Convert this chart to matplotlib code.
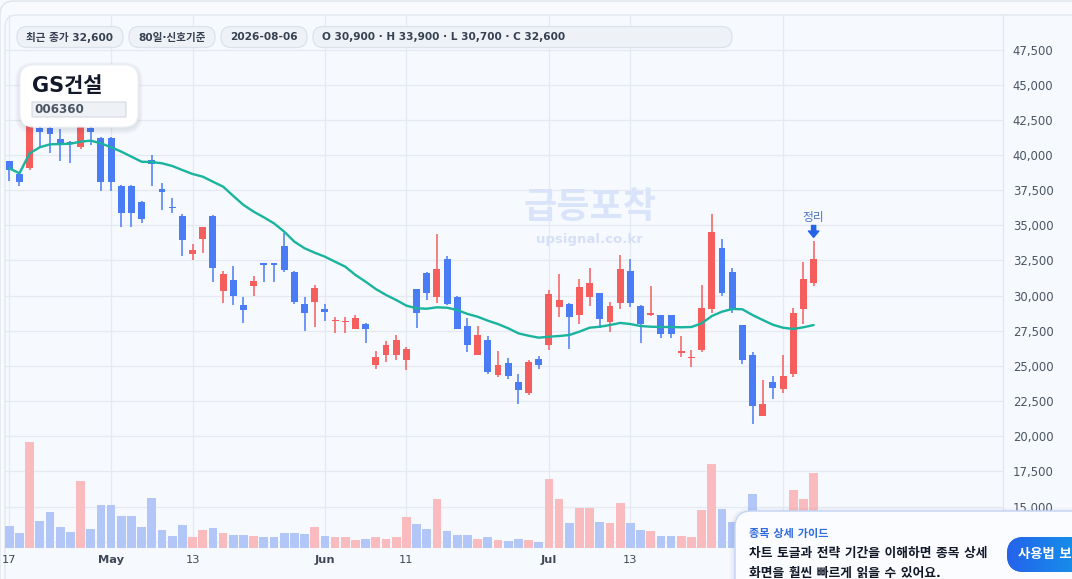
# -*- coding: utf-8 -*-

#---------------------------------------------------------------------
# ライブラリの読み込み
#---------------------------------------------------------------------
import numpy as np
import pandas as pd
import matplotlib
matplotlib.use('Agg')
import matplotlib.pyplot as plt
from matplotlib.patches import FancyBboxPatch
from matplotlib.transforms import IdentityTransform

#---------------------------------------------------------------------
# 데이터 (GS건설 일봉, 2026-04-17 ~ 2026-08-06)
#---------------------------------------------------------------------
dates = pd.bdate_range('2026-04-17', '2026-08-06')

opens = [39550, 38650, 39100, 41950, 41950, 41150, 40950, 40600, 41950, 41200,
         41200, 37800, 37800, 36650, 39650, 37600, 36300, 35650, 32950, 34050,
         35650, 30300, 31100, 29350, 30650, 32300, 32300, 33500, 31650, 29400,
         29550, 29050, 28200, 28150, 27650, 28000, 25050, 25800, 25800, 25400,
         30450, 31600, 29900, 32600, 29900, 27850, 25800, 26850, 24350, 25200,
         23850, 23100, 25500, 26500, 29200, 29400, 28600, 29900, 30200, 28150,
         29450, 31750, 29250, 28650, 28600, 28600, 25950, 25550, 26150, 29050,
         33400, 31650, 27900, 25800, 21450, 23850, 23350, 24450, 29050, 30900]
highs = [39600, 38700, 42600, 42150, 42100, 41850, 41000, 42300, 42200, 41250,
         41250, 37850, 37850, 36700, 40000, 38000, 36950, 35800, 33700, 34900,
         35700, 31750, 32100, 29900, 31400, 32350, 32350, 34450, 31750, 29900,
         30750, 29400, 28450, 28500, 28650, 28050, 26050, 26800, 27200, 26350,
         30500, 31650, 34400, 32800, 29950, 28400, 27850, 27100, 26050, 25550,
         24450, 25450, 25700, 30400, 31550, 29450, 31200, 31950, 30200, 29550,
         32900, 32600, 29350, 30700, 28600, 28600, 27150, 26150, 30750, 35800,
         34050, 31950, 27900, 26000, 24000, 24300, 25750, 29150, 32400, 33900]
lows = [38150, 37800, 38950, 40600, 40150, 39600, 39450, 40400, 40700, 37450,
        37450, 34900, 34900, 35200, 37800, 36100, 35900, 32850, 32550, 33050,
        31000, 29450, 29350, 28050, 30000, 31000, 31000, 31700, 29400, 27500,
        27800, 28200, 27350, 27350, 27650, 26650, 24800, 25250, 25400, 24700,
        27700, 29700, 29500, 29350, 27650, 26000, 25750, 24450, 24250, 24100,
        22300, 22950, 24750, 26150, 28500, 26200, 28000, 29250, 27700, 27450,
        29050, 29200, 26650, 28550, 27000, 27000, 25650, 24950, 26000, 28800,
        29950, 28750, 25150, 20850, 21450, 22650, 23100, 24250, 28000, 30700]
closes = [38950, 38050, 42300, 41650, 41500, 40800, 40800, 42000, 41650, 38050,
          38050, 35900, 35900, 35450, 39350, 37350, 36200, 33950, 33250, 34900,
          32000, 31550, 29950, 29000, 31050, 32150, 32150, 31800, 29550, 28800,
          30550, 28850, 28250, 28200, 28400, 27650, 25650, 26500, 26850, 26200,
          28800, 30200, 31900, 29400, 27650, 26500, 27200, 24600, 25050, 24300,
          23300, 25250, 25100, 30100, 29700, 28500, 30600, 30900, 28350, 29250,
          31900, 29450, 28000, 28750, 27300, 27300, 26050, 25650, 29150, 34500,
          30200, 29050, 25400, 22150, 22300, 23450, 24300, 28750, 31200, 32600]

# 이동평균선
ma_line = [39050, 38700, 40120, 40550, 40760, 40780, 40800, 40950, 41020, 40830,
           40550, 40240, 39880, 39520, 39500, 39410, 39220, 38930, 38650, 38460,
           38100, 37750, 37090, 36450, 35970, 35570, 35140, 34550, 33840, 33370,
           33050, 32770, 32410, 32060, 31470, 30990, 30470, 30050, 29690, 29290,
           29100, 29070, 29170, 29140, 28980, 28700, 28500, 28220, 27980, 27680,
           27320, 27150, 27010, 27080, 27130, 27200, 27440, 27720, 27790, 27910,
           28060, 27980, 27840, 27790, 27770, 27770, 27750, 27770, 28030, 28550,
           28860, 29050, 29030, 28620, 28270, 27930, 27720, 27630, 27750, 27910]

# 거래량 (천주)
volumes = [195, 132, 951, 243, 321, 186, 141, 600, 168, 384,
           384, 285, 285, 186, 447, 159, 105, 204, 96, 159,
           177, 132, 114, 114, 105, 96, 96, 132, 132, 123,
           186, 105, 96, 96, 69, 78, 96, 78, 96, 276,
           213, 168, 438, 150, 114, 114, 78, 96, 69, 60,
           78, 69, 51, 618, 438, 222, 357, 357, 231, 222,
           402, 222, 159, 150, 105, 105, 105, 96, 339, 753,
           348, 234, 300, 486, 255, 180, 285, 519, 438, 672]

# 마지막 눈금(8월)은 팝업에 가려져 라벨 없음
tick_dates = ['2026-04-17', '2026-05-01', '2026-05-13', '2026-06-01',
              '2026-06-11', '2026-07-01', '2026-07-13', '2026-08-03']
tick_labels = ['17', 'May', '13', 'Jun', '11', 'Jul', '13', '']
price_ticks = list(range(12500, 50000, 2500))

info_pills = ['최근 종가 32,600', '80일·신호기준', '2026-08-06',
              'O 30,900 · H 33,900 · L 30,700 · C 32,600']

#---------------------------------------------------------------------
# 스타일
#---------------------------------------------------------------------
plt.rcParams['font.family'] = ['DejaVu Sans', 'Noto Sans CJK KR']
W, H = 1072, 579
RED, BLUE = '#f65d5d', '#4a7cf6'
RED_V, BLUE_V = '#f9bbbd', '#b3c6f8'
TEAL = '#19b39e'
PX = IdentityTransform()


def box(x0, y0, x1, y1, r, fc, ec='none', lw=0.0, z=10, alpha=1.0):
	# 픽셀 좌표(위에서 아래로)로 둥근 사각형
	p = FancyBboxPatch((x0, H - y1), x1 - x0, y1 - y0,
	                   boxstyle='round,pad=0,rounding_size=%g' % r,
	                   fc=fc, ec=ec, lw=lw, transform=PX, zorder=z, alpha=alpha)
	fig.add_artist(p)
	return p


def label(x, y, s, **kw):
	kw.setdefault('va', 'center')
	kw.setdefault('zorder', 12)
	fig.text(x / W, 1 - y / H, s, **kw)


#---------------------------------------------------------------------
# 그래프
#---------------------------------------------------------------------
fig = plt.figure(figsize=(W / 100, H / 100), dpi=100, facecolor='#f8fafd')

# 바깥 카드와 패널
box(0, 1, 1100, 640, 14, '#f8fafd', '#dfe4ec', 1.0, z=-3)
box(5, 15, 1100, 640, 12, '#f6f9fe', '#e2e7ef', 1.0, z=-2)

pos = [5 / W, 1 - 548 / H, 998 / W, 533 / H]
ax_bg = fig.add_axes(pos)
ax_vol = fig.add_axes(pos, sharex=ax_bg)
ax = fig.add_axes(pos, sharex=ax_bg, sharey=ax_bg)

x = np.arange(len(dates))
o, h, l, c = map(np.array, (opens, highs, lows, closes))
up = c >= o

# 거래량 (별도 축, 아래쪽 1/5)
ax_vol.bar(x, volumes, width=0.86, color=np.where(up, RED_V, BLUE_V), lw=0)
ax_vol.set_ylim(0, max(volumes) * 5.04)
ax_vol.axis('off')

# 캔들
col = np.where(up, RED, BLUE)
ax.vlines(x, l, h, colors=col, lw=1.1, zorder=2)
ax.bar(x, np.maximum(np.abs(c - o), 70), bottom=np.minimum(o, c),
       width=0.68, color=col, lw=0, zorder=3)
ax.plot(x, ma_line, color=TEAL, lw=1.7, zorder=4, solid_capstyle='round')

# 신호 표시
ax.annotate('', xy=(x[-1], h[-1]), xytext=(0, 11), textcoords='offset points',
            arrowprops=dict(arrowstyle='simple,head_length=0.45,head_width=0.75,tail_width=0.3',
                            color='#2563eb', shrinkA=0, shrinkB=2.5, mutation_scale=10),
            zorder=5)
ax.annotate('정리', xy=(x[-1], h[-1]), xytext=(0, 17), textcoords='offset points',
            ha='center', va='center', fontsize=8.5, color='#4f72c8', zorder=5)

# 축 설정
ax.set_xlim(-0.42, 97.6)
ax.set_ylim(12057, 49954)
tpos = [dates.get_loc(pd.Timestamp(d)) for d in tick_dates]
ax.set_xticks(tpos)
ax.set_xticklabels(tick_labels)
ax.set_yticks(price_ticks)
ax.set_yticklabels(['{:,}'.format(v) for v in price_ticks])
for t in ax.get_xticklabels():
	if t.get_text() in ('May', 'Jun', 'Jul'):
		t.set_fontweight('bold')
		t.set_color('#2d3748')

ax.yaxis.tick_right()
ax.tick_params(axis='y', length=0, pad=7, labelsize=8.4, labelcolor='#4b5563')
ax.tick_params(axis='x', length=0, pad=5, labelsize=8.2, labelcolor='#3f4856')
ax.patch.set_visible(False)
for s in ('left', 'top', 'bottom'):
	ax.spines[s].set_visible(False)
ax.spines['right'].set_color('#e1e6ee')

ax_bg.patch.set_visible(False)
ax_bg.grid(True, color='#e5e9f0', lw=0.9)
ax_bg.tick_params(length=0, labelleft=False, labelbottom=False)
for s in ax_bg.spines.values():
	s.set_visible(False)

#---------------------------------------------------------------------
# 워터마크, 정보 표시
#---------------------------------------------------------------------
label(590, 208, '급등포착', ha='center', fontsize=26, fontweight='bold',
      color='#d9e4fa', zorder=1)
label(589, 240, 'upsignal.co.kr', ha='center', fontsize=9.5, fontweight='bold',
      color='#d5e0f8', zorder=1)

pill_x = [(17, 123), (129, 215), (221, 307), (313, 732)]
for (x0, x1), s in zip(pill_x, info_pills):
	box(x0, 26.5, x1, 47.5, 10, '#eef1f6', '#dce2ea', 0.9)
	if x1 - x0 > 200:
		label(322, 37.5, s, ha='left', fontsize=7.6, fontweight='bold', color='#374151')
	else:
		label((x0 + x1) / 2, 37.5, s, ha='center', fontsize=7.6, fontweight='bold', color='#374151')

# 종목명 카드
for k in range(1, 6):
	box(20 - k, 65 - k + 2, 138 + k, 127 + k + 2, 14 + k, '#1e293b', z=9, alpha=0.018)
box(20, 65, 138, 127, 14, '#ffffff', '#eef1f5', 0.8)
label(32, 86, 'GS건설', ha='left', fontsize=15, fontweight='bold', color='#111827')
box(32, 102, 126, 117, 0.5, '#eef1f5', '#d4d9e1', 0.8, z=11)
label(34, 109.5, '006360', ha='left', fontsize=8.6, fontweight='bold', color='#4b5563')

# 안내 팝업
for k in range(1, 7):
	box(735 - k, 511 - k + 2, 1110 + k, 640, 16 + k, '#1e3a8a', z=13, alpha=0.012)
box(735, 511, 1110, 640, 16, '#fafcff', '#c7d6f3', 1.1, z=14)
label(749, 534, '종목 상세 가이드', ha='left', fontsize=8, fontweight='bold',
      color='#2f6be0', zorder=15)
label(749, 553.5, '차트 토글과 전략 기간을 이해하면 종목 상세', ha='left', fontsize=9.2,
      fontweight='bold', color='#111827', zorder=15)
label(749, 573, '화면을 훨씬 빠르게 읽을 수 있어요.', ha='left', fontsize=9.2,
      fontweight='bold', color='#111827', zorder=15)

# 버튼 (그라데이션)
btn = box(1007, 537, 1110, 572, 17, '#2a6fe6', z=15)
bax = fig.add_axes([1007 / W, 1 - 572 / H, 103 / W, 35 / H], zorder=15)
bax.axis('off')
grad = np.linspace(0, 1, 256).reshape(1, -1)
im = bax.imshow(grad, aspect='auto', extent=(0, 1, 0, 1),
                cmap=matplotlib.colors.LinearSegmentedColormap.from_list('b', ['#2563eb', '#0ea5e9']))
im.set_clip_path(btn)
bax.text(0.11, 0.5, '사용법 보기', transform=bax.transAxes, ha='left', va='center',
         fontsize=9.6, color='white', fontweight='bold')

fig.savefig('out.png', dpi=100, facecolor=fig.get_facecolor())

#---------------------------------------------------------------------
# Memo
#---------------------------------------------------------------------
# 가격축과 거래량축은 같은 위치에 겹쳐 그림 (거래량은 아래 1/5)
